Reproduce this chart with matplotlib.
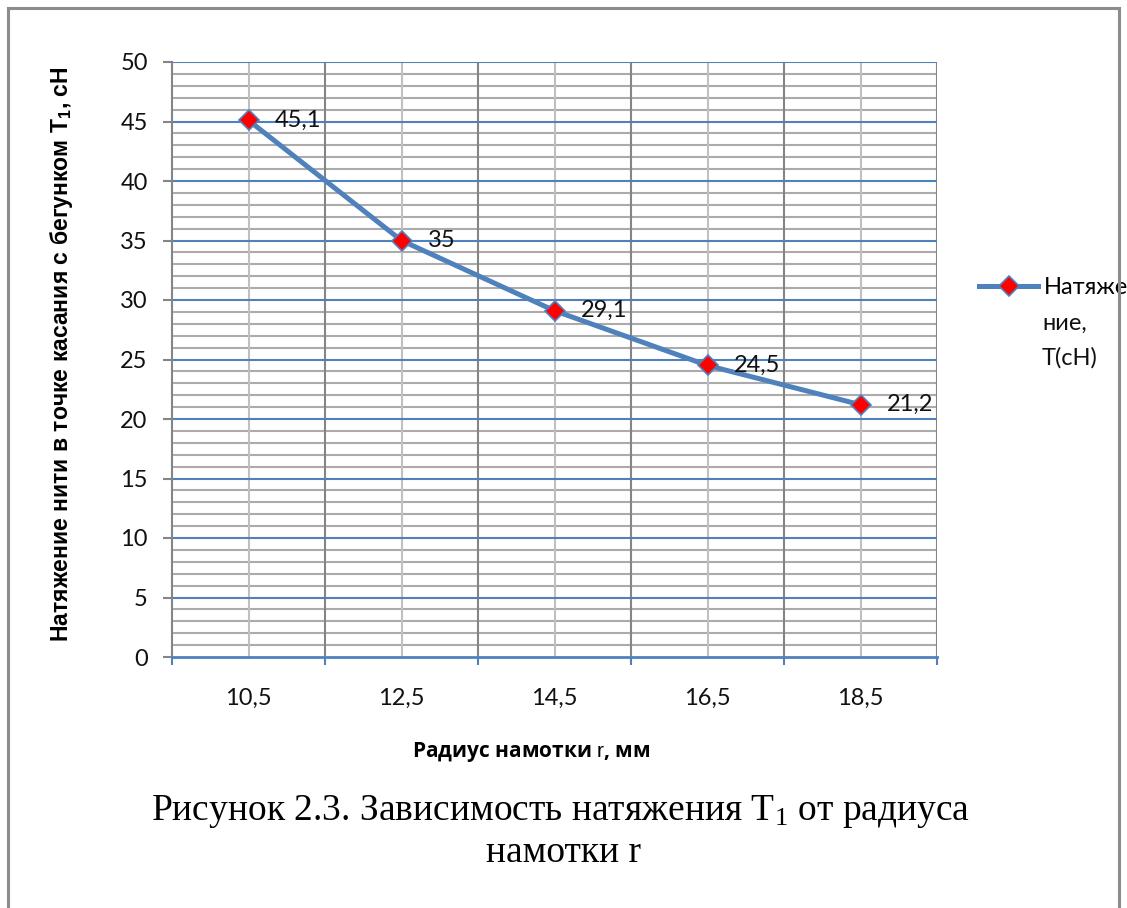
import matplotlib
matplotlib.use("Agg")
import matplotlib.pyplot as plt
from matplotlib.patches import Rectangle
from matplotlib.ticker import MultipleLocator, FixedLocator, NullFormatter

categories = ["10,5", "12,5", "14,5", "16,5", "18,5"]
tension = [45.1, 35.0, 29.1, 24.5, 21.2]
value_labels = ["45,1", "35", "29,1", "24,5", "21,2"]
series_name = ["Натяже", "ние,", "T(сН)"]

plt.rcParams['font.family'] = ['Lato', 'DejaVu Sans']
plt.rcParams['mathtext.fontset'] = 'custom'
plt.rcParams['mathtext.rm'] = 'Liberation Sans'

W, H = 1127, 908
fig = plt.figure(figsize=(W / 100, H / 100), dpi=100)

# outer frame
fig.patches.append(Rectangle((8 / W, -0.05), (1119 - 8) / W, 1.05 - 8 / H,
                             transform=fig.transFigure, fill=False,
                             edgecolor='#8c8c8c', linewidth=2.2))

ax = fig.add_axes([172 / W, 1 - 657 / H, (937 - 172) / W, (657 - 62) / H])
x = list(range(len(categories)))
ax.set_xlim(-0.5, len(categories) - 0.5)
ax.set_ylim(0, 50)

blue = '#4F81BD'
ax.yaxis.set_major_locator(MultipleLocator(5))
ax.yaxis.set_minor_locator(MultipleLocator(1))
for v in range(1, 50):
    if v % 5:
        ax.axhline(v, color='#ababab', lw=1.5, zorder=1)
for v in range(5, 51, 5):
    ax.axhline(v, color=blue, lw=1.5, zorder=2)
for i in x:
    ax.axvline(i, color='#c0c0c0', lw=1.5, zorder=1.5)
for i in range(1, len(categories) + 1):
    ax.axvline(i - 0.5, color='#858585', lw=1.5, zorder=1.6)

line, = ax.plot(x, tension, color=blue, lw=3.6, marker='D', markersize=10,
                markerfacecolor='#ff0000', markeredgecolor=blue, markeredgewidth=1.2,
                zorder=5)

for xi, yi, lab in zip(x, tension, value_labels):
    ax.annotate(lab, (xi, yi), xytext=(19, 0), textcoords='offset points',
                ha='left', va='center', fontsize=17, color='#111111', zorder=6)

for s in ['top', 'right']:
    ax.spines[s].set_visible(False)
ax.spines['left'].set_color('#858585')
ax.spines['left'].set_linewidth(1.5)
ax.spines['bottom'].set_color(blue)
ax.spines['bottom'].set_linewidth(2)
ax.spines['left'].set_zorder(3)
ax.spines['bottom'].set_zorder(4)

ax.set_xticks(x)
ax.set_xticklabels(categories)
ax.xaxis.set_minor_locator(FixedLocator([i - 0.5 for i in range(len(categories) + 1)]))
ax.tick_params(axis='x', which='major', length=0, pad=22, labelsize=17)
ax.tick_params(axis='x', which='minor', length=6, width=1.5, color=blue, direction='out')
ax.tick_params(axis='y', which='major', length=6.5, width=1.5, color='#858585',
               labelsize=17, pad=11)
ax.tick_params(axis='y', which='minor', length=0)
ax.yaxis.set_minor_formatter(NullFormatter())
for t in ax.get_yticklabels() + ax.get_xticklabels():
    t.set_color('#111111')

fig.text(62 / W, 1 - 354 / H,
         'Натяжение нити в точке касания с бегунком $\\mathregular{T_1}$, сН',
         rotation=90, ha='center', va='center', fontsize=16.6, fontweight='bold',
         family=['Liberation Sans', 'DejaVu Sans'])

fig.text(531 / W, 1 - 752 / H, 'Радиус намотки $\\mathrm{r}$, мм',
         ha='center', va='center', fontsize=15, fontweight='bold',
         family=['Open Sans', 'DejaVu Sans'])

fig.text(561 / W, 1 - 812 / H,
         'Рисунок 2.3. Зависимость натяжения $\\mathregular{T_1}$ от радиуса',
         ha='center', va='center', fontsize=27, family=['Liberation Serif', 'DejaVu Serif'])
fig.text(563 / W, 1 - 853 / H, 'намотки r',
         ha='center', va='center', fontsize=27, family=['Liberation Serif', 'DejaVu Serif'])

# legend: handle with first line, remaining lines below
leg = ax.legend([line], [series_name[0]], loc='center left',
                bbox_to_anchor=(979 / W, 1 - 288 / H),
                bbox_transform=fig.transFigure, frameon=False, fontsize=17,
                handlelength=2.5, handletextpad=0.25, borderpad=0, borderaxespad=0)
for k, txt in enumerate(series_name[1:], start=1):
    fig.text(1042 / W, 1 - (288 + 35 * k) / H, txt, ha='left', va='center',
             fontsize=17, color='#111111')

fig.savefig('out.png', dpi=100)
